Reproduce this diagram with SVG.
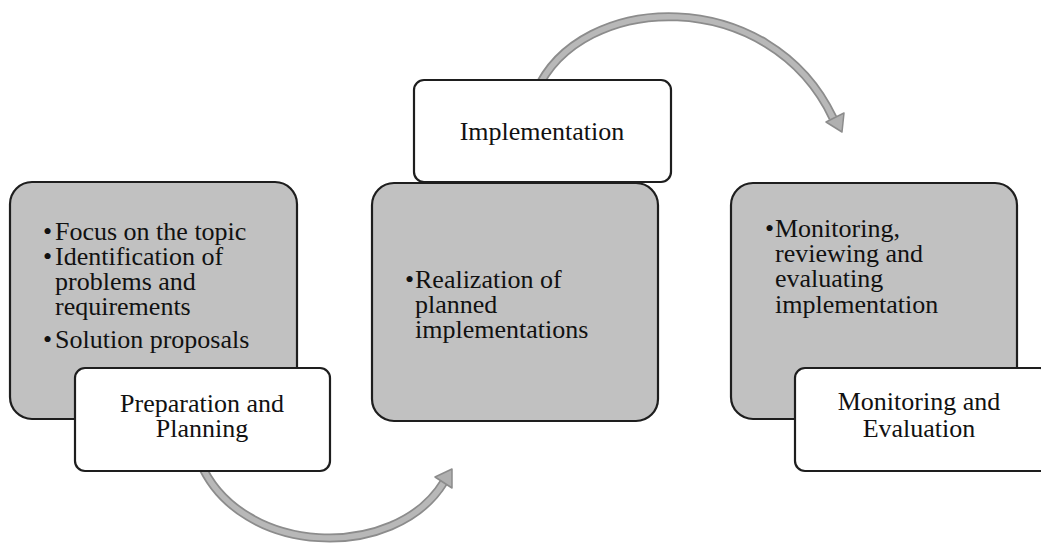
<svg xmlns="http://www.w3.org/2000/svg" width="1041" height="543" viewBox="0 0 1041 543">
<style>
.bg{fill:#c1c1c1;stroke:#1e1e1e;stroke-width:2.2}
.wb{fill:#ffffff;stroke:#1e1e1e;stroke-width:2.2}
.t{font-family:"Liberation Serif","Times New Roman",serif;font-size:26px;fill:#111111}
.c{text-anchor:middle}
.ao{fill:none;stroke:#8c8c8c;stroke-width:9}
.ai{fill:none;stroke:#b8b8b8;stroke-width:5.5}
.ah{fill:#b0b0b0;stroke:#8c8c8c;stroke-width:1.5;stroke-linejoin:round}
</style>
<rect width="1041" height="543" fill="#ffffff"/>
<g id="connectors">
<path class="ao" d="M200,462 C240,557 395,562 444,482"/>
<path class="ai" d="M200,462 C240,557 395,562 444,482"/>
<polygon class="ah" points="452,469 452,488 435,477"/>
<path class="ao" d="M536,92 C580,-10 770,-15 833,118"/>
<path class="ai" d="M536,92 C580,-10 770,-15 833,118"/>
<polygon class="ah" points="842,132 844,113 826,122"/>
</g>
<g id="node-prep">
<rect class="bg" x="10" y="182" width="287" height="237" rx="22"/>
<text class="t"><tspan x="43" y="240">•</tspan><tspan x="55" y="240">Focus on the topic</tspan><tspan x="43" y="265">•</tspan><tspan x="55" y="265">Identification of</tspan><tspan x="55" y="290">problems and</tspan><tspan x="55" y="315">requirements</tspan><tspan x="43" y="348">•</tspan><tspan x="55" y="348">Solution proposals</tspan></text>
</g>
<g id="label-prep">
<rect class="wb" x="75" y="368" width="255" height="103" rx="10"/>
<text class="t c"><tspan x="202" y="412">Preparation and</tspan><tspan x="202" y="437">Planning</tspan></text>
</g>
<g id="node-impl">
<rect class="bg" x="372" y="183" width="286" height="238" rx="22"/>
<text class="t"><tspan x="405" y="288">•</tspan><tspan x="415" y="288">Realization of</tspan><tspan x="415" y="313">planned</tspan><tspan x="415" y="338">implementations</tspan></text>
</g>
<g id="label-impl">
<rect class="wb" x="414" y="80" width="257" height="102" rx="10"/>
<text class="t c" x="542" y="140">Implementation</text>
</g>
<g id="node-mon">
<rect class="bg" x="731" y="183" width="286" height="236" rx="22"/>
<text class="t"><tspan x="765" y="237">•</tspan><tspan x="775" y="237">Monitoring,</tspan><tspan x="775" y="262">reviewing and</tspan><tspan x="775" y="287">evaluating</tspan><tspan x="775" y="313">implementation</tspan></text>
</g>
<g id="label-mon">
<rect class="wb" x="795" y="368" width="255" height="103" rx="10"/>
<text class="t c"><tspan x="919" y="410">Monitoring and</tspan><tspan x="919" y="437">Evaluation</tspan></text>
</g>
</svg>
